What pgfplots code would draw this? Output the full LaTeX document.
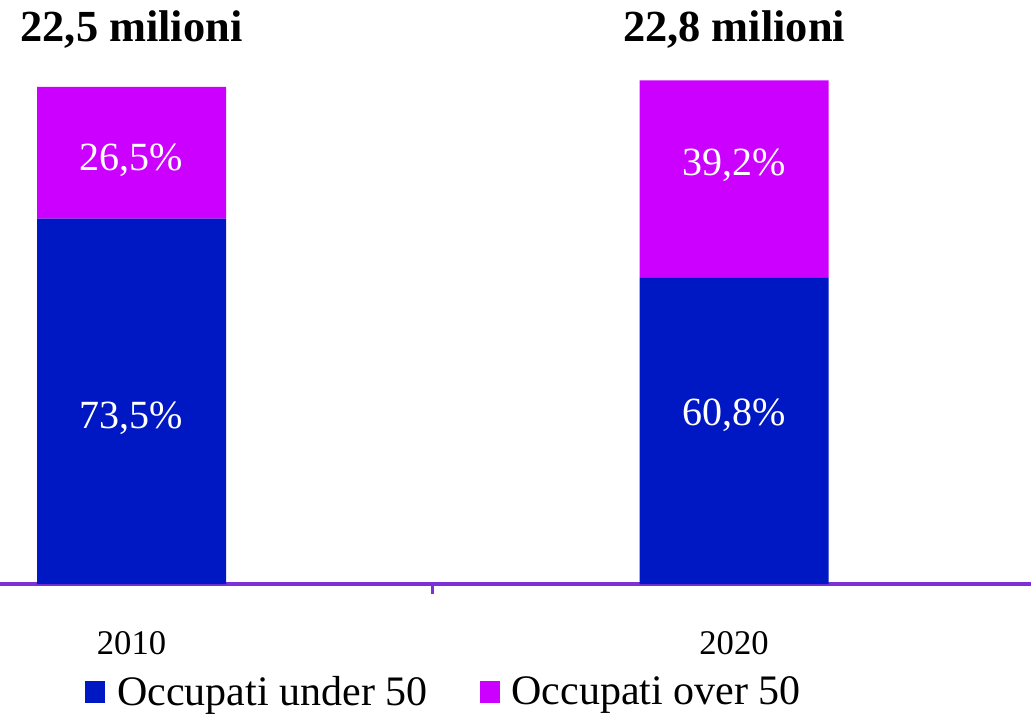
\documentclass[border=0pt]{standalone}
\usepackage{pgfplots}
\pgfplotsset{compat=1.18}
\usepackage{fontspec}
\setmainfont{Liberation Serif}
\definecolor{under}{HTML}{0018C4}
\definecolor{over}{HTML}{CC00FF}
\definecolor{axp}{HTML}{7B30D8}
\begin{document}
\begin{tikzpicture}
\useasboundingbox (0,-66pt) rectangle (515.5pt,292pt);
\begin{axis}[
  at={(0,0)}, anchor=south west,
  scale only axis, width=515.5pt, height=292pt,
  xmin=-0.2183, xmax=1.4929, ymin=0, ymax=26.438,
  ybar stacked, bar width=94.5pt,
  axis y line=none,
  axis x line*=bottom,
  x axis line style={color=axp, line width=2pt, -},
  xtick={0,1}, xticklabels={2010,2020},
  major tick length=0pt,
  extra x ticks={0.5}, extra x tick labels={},
  extra x tick style={major tick length=5pt, tick style={color=axp, line width=1.5pt}, tick align=outside},
  xticklabel style={font=\fontsize{17.3}{20}\selectfont, anchor=center, yshift=-29.5pt},
  /pgf/number format/assume math mode=true,
  legend style={at={(0.0824,0)}, anchor=west, yshift=-54pt, draw=none, fill=none, inner sep=0pt,
    font=\fontsize{21}{24}\selectfont, legend columns=2,
    /tikz/every odd column/.append style={column sep=4pt},
    /tikz/every even column/.append style={column sep=24pt}},
  legend image code/.code={\fill[#1] (0pt,-5.5pt) rectangle (10pt,5.5pt);},
  legend cell align=left,
  clip=false,
]
\addplot[fill=under, draw=none] coordinates {(0,16.5375) (1,13.8624)};
\addplot[fill=over, draw=none] coordinates {(0,5.9625) (1,8.9376)};
\legend{Occupati under 50, Occupati over 50}
\coordinate (u1) at (axis cs:0,7.51);
\coordinate (u2) at (axis cs:1,7.65);
\coordinate (o1) at (axis cs:0,19.19);
\coordinate (o2) at (axis cs:1,18.97);
\coordinate (t1) at (axis cs:0,25.08);
\coordinate (t2) at (axis cs:1,25.08);
\end{axis}
\node[white, font=\fontsize{20}{23}\selectfont] at (u1) {73,5\%};
\node[white, font=\fontsize{20}{23}\selectfont] at (u2) {60,8\%};
\node[white, font=\fontsize{20}{23}\selectfont] at (o1) {26,5\%};
\node[white, font=\fontsize{20}{23}\selectfont] at (o2) {39,2\%};
\node[black, font=\bfseries\fontsize{22.2}{26}\selectfont] at (t1) {22,5 milioni};
\node[black, font=\bfseries\fontsize{22.2}{26}\selectfont] at (t2) {22,8 milioni};
\end{tikzpicture}
\end{document}
